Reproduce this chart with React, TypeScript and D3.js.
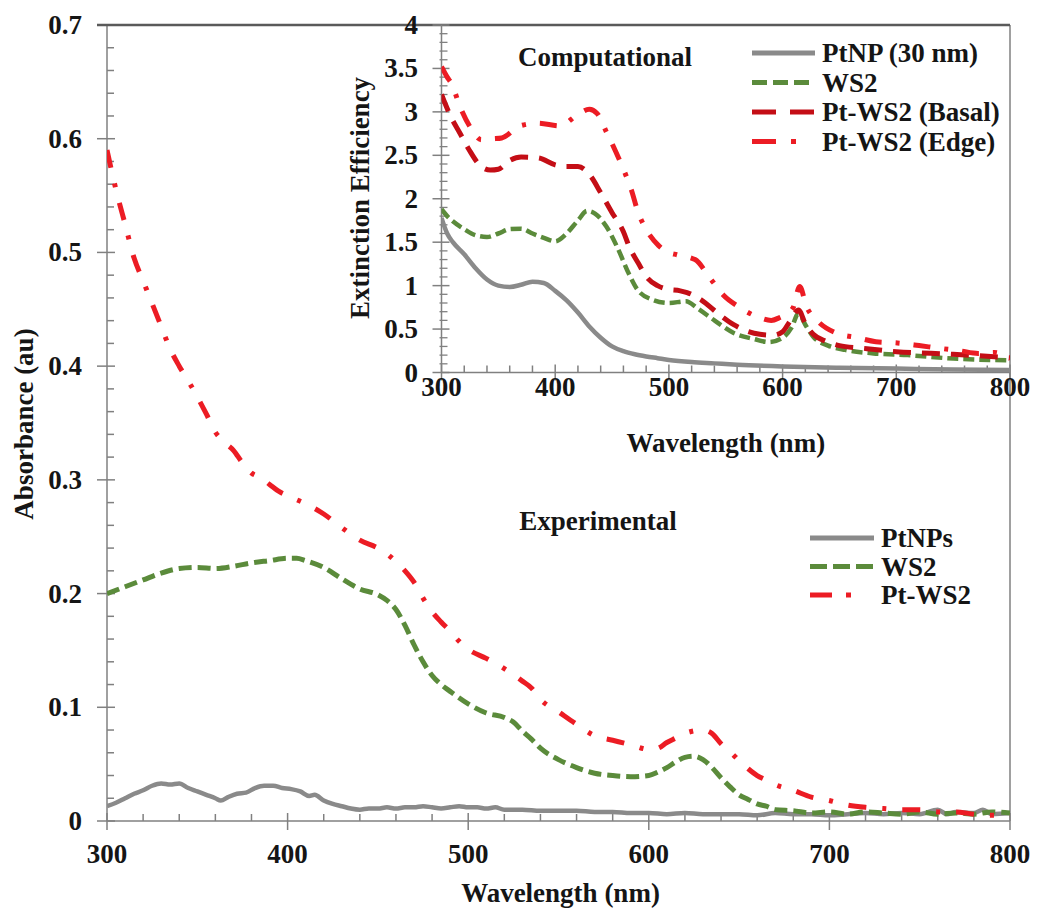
import React from 'react';
import * as d3 from 'd3';

type P = [number, number];

// ---------- Experimental (main) data: wavelength (nm), absorbance (au)
const expPtNPs: P[] = [
  [300, 0.013], [305, 0.016], [310, 0.02], [315, 0.024], [320, 0.027], [325, 0.031], [330, 0.033],
  [335, 0.032], [340, 0.033], [345, 0.029], [350, 0.026], [355, 0.023], [360, 0.02], [363, 0.018],
  [367, 0.021], [372, 0.024], [377, 0.025], [382, 0.029], [387, 0.031], [392, 0.031], [397, 0.029],
  [402, 0.028], [407, 0.026], [412, 0.022], [415, 0.023], [420, 0.018], [425, 0.015], [430, 0.013],
  [435, 0.011], [440, 0.01], [445, 0.011], [450, 0.011], [455, 0.012], [460, 0.011], [465, 0.012],
  [470, 0.012], [475, 0.013], [480, 0.012], [485, 0.011], [490, 0.012], [495, 0.013], [500, 0.012],
  [505, 0.012], [510, 0.011], [515, 0.012], [520, 0.01], [530, 0.01], [540, 0.009], [550, 0.009],
  [560, 0.009], [570, 0.008], [580, 0.008], [590, 0.007], [600, 0.007], [610, 0.006], [620, 0.007],
  [630, 0.006], [640, 0.006], [650, 0.006], [660, 0.005], [670, 0.007], [680, 0.006], [690, 0.006],
  [700, 0.005], [710, 0.006], [720, 0.007], [730, 0.006], [740, 0.007], [750, 0.006], [760, 0.01],
  [765, 0.006], [770, 0.008], [780, 0.007], [785, 0.01], [790, 0.006], [800, 0.007],
];

const expWS2: P[] = [
  [300, 0.2], [310, 0.206], [320, 0.212], [330, 0.218], [340, 0.222], [350, 0.223], [360, 0.222],
  [370, 0.224], [380, 0.227], [390, 0.229], [400, 0.231], [405, 0.231], [410, 0.229], [420, 0.223],
  [430, 0.213], [440, 0.204], [450, 0.199], [455, 0.194], [460, 0.186], [465, 0.172], [470, 0.155],
  [475, 0.14], [480, 0.128], [485, 0.12], [490, 0.114], [500, 0.103], [510, 0.095], [520, 0.091],
  [525, 0.087], [530, 0.079], [535, 0.072], [540, 0.064], [550, 0.054], [560, 0.047], [570, 0.042],
  [580, 0.04], [590, 0.039], [600, 0.04], [605, 0.043], [610, 0.047], [615, 0.052], [620, 0.056],
  [625, 0.057], [630, 0.054], [635, 0.047], [640, 0.038], [645, 0.03], [650, 0.023], [655, 0.019],
  [660, 0.015], [665, 0.013], [670, 0.01], [680, 0.009], [690, 0.007], [700, 0.008], [710, 0.006],
  [720, 0.008], [730, 0.007], [740, 0.006], [750, 0.008], [760, 0.006], [770, 0.007], [780, 0.006],
  [790, 0.008], [800, 0.007],
];

const expPtWS2: P[] = [
  [300, 0.59], [305, 0.555], [310, 0.525], [315, 0.495], [320, 0.475], [325, 0.455], [330, 0.435],
  [335, 0.415], [340, 0.4], [345, 0.387], [350, 0.373], [355, 0.358], [360, 0.342], [365, 0.333],
  [370, 0.326], [375, 0.315], [380, 0.306], [385, 0.302], [390, 0.296], [395, 0.29], [400, 0.286],
  [410, 0.279], [420, 0.27], [430, 0.258], [440, 0.247], [450, 0.24], [455, 0.235], [460, 0.228],
  [465, 0.22], [470, 0.21], [475, 0.196], [480, 0.184], [485, 0.175], [490, 0.167], [495, 0.158],
  [500, 0.151], [510, 0.143], [520, 0.134], [530, 0.123], [535, 0.117], [540, 0.107], [550, 0.096],
  [560, 0.085], [570, 0.075], [580, 0.071], [590, 0.067], [600, 0.063], [605, 0.064], [610, 0.069],
  [615, 0.073], [620, 0.077], [630, 0.08], [635, 0.077], [640, 0.068], [645, 0.061], [650, 0.053],
  [655, 0.046], [660, 0.04], [665, 0.036], [670, 0.032], [680, 0.027], [690, 0.021], [700, 0.018],
  [710, 0.014], [720, 0.012], [730, 0.011], [740, 0.01], [750, 0.01], [760, 0.008], [770, 0.008],
  [780, 0.006], [790, 0.005], [800, 0.005],
];

// ---------- Computational (inset) data: wavelength (nm), extinction efficiency
const compPtNP: P[] = [
  [300, 1.78], [305, 1.6], [310, 1.5], [320, 1.36], [330, 1.2], [340, 1.07], [350, 1.0], [360, 0.985],
  [370, 1.01], [380, 1.045], [390, 1.03], [400, 0.94], [410, 0.83], [420, 0.69], [430, 0.53],
  [440, 0.4], [450, 0.3], [460, 0.245], [470, 0.21], [480, 0.185], [490, 0.165], [500, 0.145],
  [520, 0.12], [540, 0.105], [560, 0.09], [600, 0.07], [650, 0.055], [700, 0.045], [750, 0.035],
  [800, 0.03],
];

const compWS2: P[] = [
  [300, 1.88], [305, 1.8], [310, 1.74], [320, 1.65], [330, 1.58], [340, 1.56], [350, 1.6], [360, 1.65],
  [370, 1.655], [380, 1.6], [390, 1.55], [400, 1.51], [410, 1.6], [420, 1.75], [428, 1.86], [435, 1.83],
  [445, 1.68], [455, 1.43], [465, 1.13], [472, 0.96], [485, 0.84], [500, 0.8], [515, 0.82], [525, 0.74],
  [540, 0.6], [557, 0.455], [575, 0.385], [588, 0.35], [600, 0.4], [608, 0.52], [614, 0.68], [620, 0.55],
  [627, 0.41], [640, 0.31], [655, 0.26], [680, 0.22], [710, 0.2], [750, 0.16], [800, 0.14],
];

const compBasal: P[] = [
  [300, 3.2], [308, 2.95], [316, 2.76], [324, 2.57], [335, 2.37], [343, 2.33], [350, 2.34], [360, 2.44],
  [370, 2.48], [385, 2.47], [400, 2.39], [410, 2.37], [420, 2.37], [430, 2.28], [440, 2.07], [450, 1.84],
  [460, 1.62], [465, 1.45], [473, 1.26], [481, 1.09], [490, 1.0], [498, 0.96], [510, 0.94], [516, 0.92],
  [528, 0.84], [545, 0.66], [557, 0.55], [570, 0.47], [580, 0.44], [592, 0.43], [600, 0.47], [607, 0.6],
  [614, 0.72], [620, 0.56], [627, 0.44], [638, 0.36], [650, 0.31], [670, 0.28], [700, 0.24], [750, 0.21],
  [800, 0.17],
];

const compEdge: P[] = [
  [300, 3.52], [305, 3.4], [309, 3.32], [316, 3.07], [325, 2.83], [335, 2.68], [345, 2.69], [353, 2.7],
  [369, 2.84], [385, 2.87], [404, 2.84], [420, 2.97], [430, 3.03], [437, 2.98], [445, 2.77], [453, 2.55],
  [460, 2.34], [467, 2.1], [473, 1.84], [479, 1.67], [491, 1.46], [500, 1.38], [507, 1.355], [523, 1.3],
  [536, 1.09], [548, 0.89], [561, 0.76], [578, 0.64], [590, 0.6], [597, 0.63], [609, 0.74], [615, 0.99],
  [621, 0.76], [631, 0.59], [647, 0.455], [666, 0.4], [682, 0.355], [701, 0.34], [720, 0.31], [737, 0.28],
  [756, 0.25], [772, 0.22], [786, 0.23], [800, 0.16],
];

const mainXTicks = [300, 400, 500, 600, 700, 800];
const mainYTicks = [0, 0.1, 0.2, 0.3, 0.4, 0.5, 0.6, 0.7];
const insetXTicks = [300, 400, 500, 600, 700, 800];
const insetYTicks = [0, 0.5, 1, 1.5, 2, 2.5, 3, 3.5, 4];

const mainLegend = ['PtNPs', 'WS2', 'Pt-WS2'];
const insetLegend = ['PtNP (30 nm)', 'WS2', 'Pt-WS2 (Basal)', 'Pt-WS2 (Edge)'];

const FONT = "'Liberation Serif', 'Times New Roman', Times, serif";
const GRAY = '#8a8a8a';
const GREEN = '#5b8b3b';
const RED = '#ec1c24';
const DARKRED = '#c40e16';
const AXIS = '#808080';
const TXT = '#151515';

export default function App() {
  const mx = d3.scaleLinear().domain([300, 800]).range([107, 1010]);
  const my = d3.scaleLinear().domain([0, 0.7]).range([821, 25]);
  const ix = d3.scaleLinear().domain([300, 800]).range([441.5, 1010]);
  const iy = d3.scaleLinear().domain([0, 4]).range([372.5, 25]);

  const mLine = d3.line<P>().x(d => mx(d[0])).y(d => my(d[1])).curve(d3.curveMonotoneX);
  const iLine = d3.line<P>().x(d => ix(d[0])).y(d => iy(d[1])).curve(d3.curveMonotoneX);

  const mainSeries = [
    { data: expPtNPs, color: GRAY, dash: 'none', w: 4.5 },
    { data: expWS2, color: GREEN, dash: '13,6', w: 5 },
    { data: expPtWS2, color: RED, dash: '18,16,4,16', w: 5 },
  ];
  const insetSeries = [
    { data: compPtNP, color: GRAY, dash: 'none', w: 4.5 },
    { data: compWS2, color: GREEN, dash: '11,5', w: 4.5 },
    { data: compBasal, color: DARKRED, dash: '18,11', w: 5 },
    { data: compEdge, color: RED, dash: '17,14,4,14', w: 5 },
  ];
  const mainLegendDash = ['none', '17,6', '22,14,5,30'];
  const insetLegendDash = ['none', '15,6', '24,14', '24,15,5,30'];

  const mainMinorX = d3.range(300, 801, 20).filter(v => v % 100 !== 0);
  const mainMinorY = d3.range(0, 0.701, 0.02).filter(v => Math.abs(v * 10 - Math.round(v * 10)) > 1e-6);
  const insetMinorX = d3.range(300, 801, 20).filter(v => v % 100 !== 0);
  const insetMinorY = d3.range(0, 4.001, 0.1).filter(v => Math.abs(v * 2 - Math.round(v * 2)) > 1e-6);

  const textStyle: React.CSSProperties = { fontFamily: FONT, fontWeight: 'bold', fontSize: 27, fill: TXT };

  return (
    <svg width={1038} height={909} style={{ position: 'absolute', left: 0, top: 0, background: '#fff' }}>
      <defs>
        <clipPath id="mainClip">
          <rect x={mx(300)} y={my(0.7)} width={mx(800) - mx(300)} height={my(0) - my(0.7)} />
        </clipPath>
        <clipPath id="insetClip">
          <rect x={ix(300)} y={iy(4)} width={ix(800) - ix(300)} height={iy(0) - iy(4)} />
        </clipPath>
      </defs>

      {/* ---------- MAIN CHART ---------- */}
      <g>
        {/* minor ticks */}
        {mainMinorX.map(v => (
          <line key={'mmx' + v} x1={mx(v)} x2={mx(v)} y1={my(0)} y2={my(0) - 7} stroke={AXIS} strokeWidth={1.5} />
        ))}
        {mainMinorY.map(v => (
          <line key={'mmy' + v} x1={mx(300)} x2={mx(300) + 7} y1={my(v)} y2={my(v)} stroke={AXIS} strokeWidth={1.5} />
        ))}
        {mainXTicks.map(v => (
          <line key={'mtx' + v} x1={mx(v)} x2={mx(v)} y1={my(0) - 8} y2={my(0) + 9} stroke={AXIS} strokeWidth={1.5} />
        ))}
        {mainYTicks.map(v => (
          <line key={'mty' + v} x1={mx(300) - 10} x2={mx(300) + 8} y1={my(v)} y2={my(v)} stroke={AXIS} strokeWidth={1.5} />
        ))}
        {/* spines */}
        <line x1={mx(300)} x2={mx(300)} y1={my(0.7)} y2={my(0)} stroke={AXIS} strokeWidth={1.5} />
        <line x1={mx(300)} x2={mx(800)} y1={my(0)} y2={my(0)} stroke={AXIS} strokeWidth={1.5} />
        <line x1={mx(800)} x2={mx(800)} y1={my(0.7)} y2={my(0)} stroke={AXIS} strokeWidth={1.5} />
        <line x1={mx(300) - 10} x2={mx(800)} y1={my(0.7)} y2={my(0.7)} stroke="#5a5a5a" strokeWidth={2.5} />

        {/* tick labels */}
        {mainXTicks.map(v => (
          <text key={'mxl' + v} x={mx(v)} y={863} textAnchor="middle" style={textStyle}>{v}</text>
        ))}
        {mainYTicks.map(v => (
          <text key={'myl' + v} x={82} y={my(v) + 9} textAnchor="end" style={textStyle}>{v === 0 ? '0' : v.toFixed(1)}</text>
        ))}
        {/* axis titles */}
        <text x={(mx(300) + mx(800)) / 2 + 2} y={902} textAnchor="middle" style={textStyle}>Wavelength (nm)</text>
        <text transform="translate(33,424) rotate(-90)" textAnchor="middle" style={textStyle}>Absorbance (au)</text>

        {/* curves */}
        <g clipPath="url(#mainClip)">
          {mainSeries.map((s, i) => (
            <path key={'ms' + i} d={mLine(s.data) || ''} fill="none" stroke={s.color} strokeWidth={s.w}
              strokeDasharray={s.dash} strokeLinejoin="round" strokeLinecap="butt" />
          ))}
        </g>

        {/* label + legend */}
        <text x={598} y={530} textAnchor="middle" style={textStyle}>Experimental</text>
        {mainLegend.map((lab, i) => {
          const yy = 538 + i * 28.5;
          const s = mainSeries[i];
          return (
            <g key={'ml' + i}>
              <line x1={810} x2={874} y1={yy} y2={yy} stroke={s.color} strokeWidth={5}
                strokeDasharray={mainLegendDash[i]} strokeLinecap="butt" />
              <text x={881} y={yy + 9} style={textStyle}>{lab}</text>
            </g>
          );
        })}
      </g>

      {/* ---------- INSET CHART ---------- */}
      <g>
        {insetMinorX.map(v => (
          <line key={'imx' + v} x1={ix(v)} x2={ix(v)} y1={iy(0)} y2={iy(0) - 7} stroke={AXIS} strokeWidth={1.5} />
        ))}
        {insetMinorY.map(v => (
          <line key={'imy' + v} x1={ix(300) - 2} x2={ix(300) + 6} y1={iy(v)} y2={iy(v)} stroke={AXIS} strokeWidth={1.3} />
        ))}
        {insetXTicks.map(v => (
          <line key={'itx' + v} x1={ix(v)} x2={ix(v)} y1={iy(0) - 8} y2={iy(0) + 8} stroke={AXIS} strokeWidth={1.5} />
        ))}
        {insetYTicks.map(v => (
          <line key={'ity' + v} x1={ix(300) - 9} x2={ix(300) + 8} y1={iy(v)} y2={iy(v)} stroke={AXIS} strokeWidth={1.5} />
        ))}
        <line x1={ix(300)} x2={ix(300)} y1={iy(4)} y2={iy(0)} stroke={AXIS} strokeWidth={1.5} />
        <line x1={ix(300)} x2={ix(800)} y1={iy(0)} y2={iy(0)} stroke={AXIS} strokeWidth={1.5} />

        {insetXTicks.map(v => (
          <text key={'ixl' + v} x={ix(v)} y={396} textAnchor="middle" style={textStyle}>{v}</text>
        ))}
        {insetYTicks.map(v => (
          <text key={'iyl' + v} x={418} y={iy(v) + 9} textAnchor="end" style={textStyle}>{String(v)}</text>
        ))}
        <text x={(ix(300) + ix(800)) / 2} y={452} textAnchor="middle" style={textStyle}>Wavelength (nm)</text>
        <text transform="translate(369,198) rotate(-90)" textAnchor="middle" style={textStyle}>Extinction Efficiency</text>

        <g clipPath="url(#insetClip)">
          {insetSeries.map((s, i) => (
            <path key={'is' + i} d={iLine(s.data) || ''} fill="none" stroke={s.color} strokeWidth={s.w}
              strokeDasharray={s.dash} strokeLinejoin="round" strokeLinecap="butt" />
          ))}
        </g>

        <text x={605} y={66} textAnchor="middle" style={textStyle}>Computational</text>
        {insetLegend.map((lab, i) => {
          const yy = 53 + i * 29.5;
          const s = insetSeries[i];
          return (
            <g key={'il' + i}>
              <line x1={752} x2={815} y1={yy} y2={yy} stroke={s.color} strokeWidth={5}
                strokeDasharray={insetLegendDash[i]} strokeLinecap="butt" />
              <text x={822} y={yy + 9} style={textStyle}>{lab}</text>
            </g>
          );
        })}
      </g>
    </svg>
  );
}
